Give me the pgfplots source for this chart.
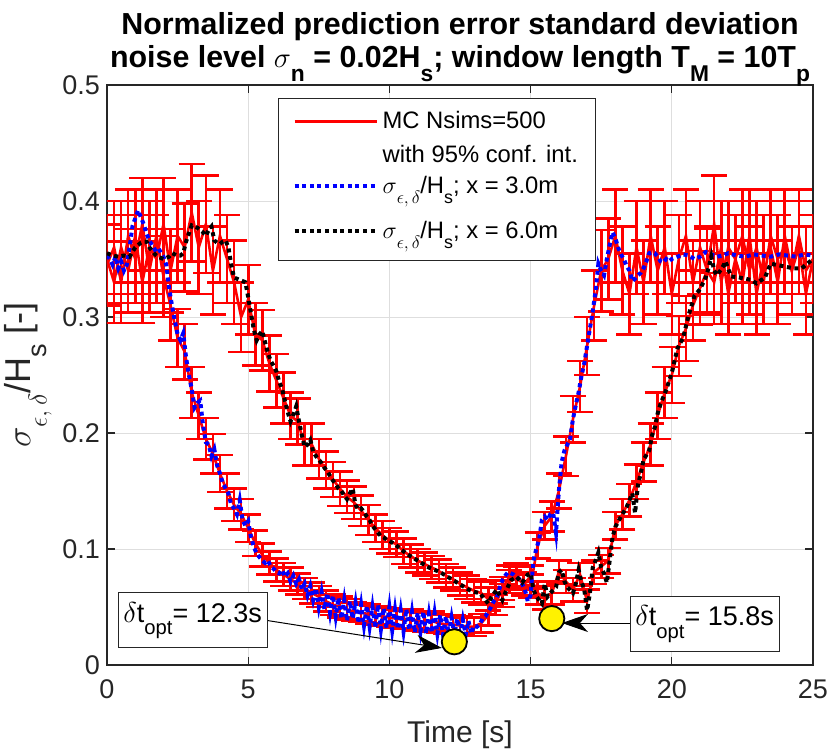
\documentclass[border=0pt]{standalone}
\usepackage{pgfplots}
\pgfplotsset{compat=1.18}
\usepackage{pgfplotstable}
\usepackage{graphicx}
\usepackage{fontspec}
\setmainfont{Liberation Sans}
\usetikzlibrary{arrows.meta}
\newcommand{\sub}[1]{\raisebox{-0.45em}{\scalebox{0.75}{#1}}}
\newcommand{\lgf}{\fontsize{11.9}{14}\selectfont}
\definecolor{axgray}{rgb}{0.15,0.15,0.15}

\pgfplotstableread{
t v e
0 0.345 0.035
0.25 0.36 0.04
0.5 0.33 0.035
0.75 0.37 0.04
1 0.35 0.038
1.25 0.38 0.04
1.5 0.34 0.036
1.75 0.37 0.04
2 0.335 0.035
2.25 0.31 0.03
2.5 0.282 0.025
2.75 0.27 0.024
3 0.235 0.022
3.25 0.215 0.02
3.5 0.195 0.018
3.75 0.182 0.017
4 0.165 0.016
4.25 0.15 0.015
4.5 0.138 0.014
4.75 0.13 0.013
5 0.118 0.012
5.25 0.105 0.011
5.5 0.095 0.01
5.75 0.088 0.01
6 0.082 0.01
6.25 0.078 0.01
6.5 0.074 0.01
6.75 0.07 0.009
7 0.066 0.009
7.25 0.062 0.009
7.5 0.059 0.009
7.75 0.055 0.009
8 0.052 0.009
8.25 0.05 0.009
8.5 0.048 0.009
8.75 0.046 0.008
9 0.045 0.008
9.25 0.044 0.008
9.5 0.043 0.008
9.75 0.042 0.008
10 0.041 0.008
10.25 0.04 0.008
10.5 0.039 0.008
10.75 0.04 0.008
11 0.038 0.008
11.25 0.037 0.008
11.5 0.038 0.008
11.75 0.036 0.008
12 0.035 0.008
12.25 0.035 0.008
12.5 0.034 0.008
12.75 0.033 0.008
13 0.033 0.008
13.25 0.036 0.008
13.5 0.043 0.009
13.75 0.052 0.009
14 0.066 0.01
14.25 0.076 0.01
14.5 0.078 0.01
14.75 0.07 0.01
15 0.068 0.01
15.25 0.103 0.011
15.5 0.12 0.012
15.75 0.128 0.013
16 0.15 0.015
16.25 0.18 0.017
16.5 0.212 0.02
16.75 0.24 0.022
17 0.275 0.025
17.25 0.31 0.03
17.5 0.34 0.035
17.75 0.35 0.035
18 0.37 0.04
18.25 0.34 0.038
18.5 0.32 0.035
18.75 0.36 0.04
19 0.33 0.036
19.25 0.37 0.04
19.5 0.34 0.038
19.75 0.36 0.04
20 0.32 0.035
20.25 0.35 0.038
20.5 0.37 0.04
20.75 0.33 0.036
21 0.36 0.04
21.25 0.34 0.038
21.5 0.38 0.042
21.75 0.33 0.036
22 0.36 0.04
22.25 0.35 0.038
22.5 0.37 0.04
22.75 0.34 0.038
23 0.36 0.04
23.25 0.33 0.036
23.5 0.37 0.04
23.75 0.35 0.038
24 0.36 0.04
24.25 0.34 0.038
24.5 0.37 0.04
24.75 0.34 0.038
25 0.35 0.038
}\mcA

\pgfplotstableread{
t v e
0 0.35 0.038
0.25 0.33 0.035
0.5 0.36 0.04
0.75 0.34 0.036
1 0.37 0.04
1.25 0.33 0.035
1.5 0.36 0.04
1.75 0.35 0.038
2 0.38 0.04
2.25 0.34 0.036
2.5 0.37 0.04
2.75 0.36 0.038
3 0.39 0.042
3.25 0.36 0.04
3.5 0.38 0.042
3.75 0.34 0.038
4 0.37 0.04
4.25 0.35 0.038
4.5 0.33 0.036
4.75 0.30 0.03
5 0.315 0.03
5.25 0.285 0.027
5.5 0.28 0.026
5.75 0.26 0.024
6 0.245 0.023
6.25 0.23 0.022
6.5 0.215 0.02
6.75 0.21 0.02
7 0.19 0.018
7.25 0.19 0.018
7.5 0.178 0.017
7.75 0.168 0.016
8 0.16 0.015
8.25 0.152 0.015
8.5 0.145 0.014
8.75 0.14 0.014
9 0.133 0.013
9.25 0.125 0.013
9.5 0.118 0.012
9.75 0.112 0.012
10 0.107 0.011
10.25 0.104 0.011
10.5 0.098 0.011
10.75 0.094 0.01
11 0.09 0.01
11.25 0.087 0.01
11.5 0.084 0.01
11.75 0.081 0.01
12 0.077 0.01
12.25 0.074 0.01
12.5 0.07 0.01
12.75 0.067 0.01
13 0.064 0.01
13.25 0.062 0.01
13.5 0.057 0.01
13.75 0.063 0.01
14 0.06 0.01
14.25 0.072 0.01
14.5 0.075 0.01
14.75 0.07 0.01
15 0.076 0.01
15.25 0.062 0.01
15.5 0.058 0.01
15.75 0.062 0.01
16 0.08 0.01
16.25 0.072 0.01
16.5 0.065 0.01
16.75 0.078 0.01
17 0.055 0.01
17.25 0.08 0.01
17.5 0.085 0.01
17.75 0.09 0.011
18 0.12 0.012
18.25 0.13 0.013
18.5 0.142 0.014
18.75 0.158 0.015
19 0.175 0.017
19.25 0.19 0.018
19.5 0.215 0.02
19.75 0.235 0.022
20 0.25 0.024
20.25 0.275 0.026
20.5 0.29 0.028
20.75 0.31 0.03
21 0.325 0.032
21.25 0.34 0.036
21.5 0.33 0.036
21.75 0.36 0.04
22 0.32 0.035
22.25 0.35 0.038
22.5 0.33 0.036
22.75 0.37 0.04
23 0.32 0.035
23.25 0.35 0.038
23.5 0.36 0.04
23.75 0.33 0.036
24 0.37 0.04
24.25 0.34 0.038
24.5 0.36 0.04
24.75 0.32 0.035
25 0.35 0.038
}\mcB

\pgfplotstableread{
t v
0.0 0.353
0.1 0.35
0.2 0.345
0.3 0.352
0.4 0.342
0.5 0.348
0.6 0.34
0.7 0.345
0.8 0.36
0.9 0.378
1.0 0.385
1.1 0.392
1.2 0.386
1.3 0.38
1.4 0.372
1.5 0.366
1.6 0.362
1.7 0.358
1.8 0.36
1.9 0.356
2.0 0.352
2.1 0.345
2.2 0.325
2.3 0.31
2.4 0.297
2.5 0.285
2.6 0.28
2.7 0.286
2.8 0.265
2.9 0.25
3.0 0.238
3.1 0.222
3.2 0.226
3.3 0.228
3.4 0.207
3.5 0.192
3.6 0.19
3.7 0.18
3.8 0.186
3.9 0.172
4.0 0.165
4.1 0.157
4.2 0.152
4.3 0.148
4.4 0.138
4.5 0.135
4.6 0.13
4.7 0.142
4.8 0.125
4.9 0.12
5.0 0.124
5.1 0.11
5.2 0.102
5.3 0.096
5.4 0.093
5.5 0.09
5.6 0.088
5.7 0.09
5.8 0.085
5.9 0.083
6.0 0.08
6.1 0.079
6.2 0.082
6.3 0.076
6.4 0.079
6.5 0.072
6.6 0.077
6.7 0.07
6.8 0.074
6.9 0.065
7.0 0.07
7.1 0.06
7.2 0.068
7.3 0.056
7.4 0.066
7.5 0.05
7.6 0.063
7.7 0.048
7.8 0.062
7.9 0.045
8.0 0.06
8.1 0.042
8.2 0.058
8.3 0.04
8.4 0.056
8.5 0.038
8.6 0.055
8.7 0.04
8.8 0.054
8.9 0.036
9.0 0.052
9.1 0.034
9.2 0.051
9.3 0.033
9.4 0.05
9.5 0.032
9.6 0.052
9.7 0.031
9.8 0.049
9.9 0.032
10.0 0.05
10.1 0.03
10.2 0.048
10.3 0.031
10.4 0.047
10.5 0.029
10.6 0.048
10.7 0.03
10.8 0.046
10.9 0.028
11.0 0.045
11.1 0.029
11.2 0.046
11.3 0.027
11.4 0.044
11.5 0.028
11.6 0.045
11.7 0.027
11.8 0.043
11.9 0.026
12.0 0.042
12.1 0.027
12.2 0.041
12.3 0.026
12.4 0.04
12.5 0.025
12.6 0.039
12.7 0.026
12.8 0.038
12.9 0.027
13.0 0.034
13.1 0.033
13.2 0.035
13.3 0.04
13.4 0.042
13.5 0.046
13.6 0.05
13.7 0.055
13.8 0.058
13.9 0.066
14.0 0.073
14.1 0.077
14.2 0.08
14.3 0.079
14.4 0.078
14.5 0.076
14.6 0.074
14.7 0.07
14.8 0.065
14.9 0.055
15.0 0.06
15.1 0.09
15.2 0.1
15.3 0.108
15.4 0.125
15.5 0.128
15.6 0.125
15.7 0.13
15.8 0.131
15.9 0.114
16.0 0.15
16.1 0.175
16.2 0.185
16.3 0.19
16.4 0.195
16.5 0.212
16.6 0.224
16.7 0.235
16.8 0.249
16.9 0.26
17.0 0.275
17.1 0.29
17.2 0.305
17.3 0.322
17.4 0.346
17.5 0.34
17.6 0.336
17.7 0.35
17.8 0.362
17.9 0.373
18.0 0.368
18.1 0.36
18.2 0.354
18.3 0.35
18.4 0.344
18.5 0.34
18.6 0.331
18.7 0.333
18.8 0.336
18.9 0.338
19.0 0.342
19.1 0.348
19.2 0.355
19.3 0.356
19.4 0.355
19.5 0.352
19.6 0.348
19.7 0.347
19.8 0.35
19.9 0.348
20.0 0.35
20.2 0.352
20.4 0.354
20.6 0.353
20.8 0.35
21.0 0.352
21.2 0.356
21.4 0.354
21.6 0.352
21.8 0.353
22.0 0.355
22.3 0.353
22.6 0.352
22.9 0.354
23.2 0.353
23.5 0.352
23.8 0.354
24.1 0.353
24.4 0.352
24.7 0.354
25.0 0.353
}\blueA

\pgfplotstableread{
t v
0.0 0.355
0.2 0.353
0.4 0.352
0.6 0.353
0.8 0.352
0.9 0.356
1.0 0.36
1.1 0.362
1.2 0.364
1.3 0.365
1.4 0.365
1.5 0.36
1.6 0.357
1.7 0.354
1.8 0.352
1.9 0.351
2.0 0.35
2.1 0.351
2.2 0.352
2.3 0.355
2.4 0.354
2.5 0.353
2.6 0.353
2.7 0.355
2.8 0.365
2.9 0.372
3.0 0.379
3.1 0.378
3.2 0.377
3.3 0.375
3.4 0.373
3.5 0.37
3.6 0.375
3.7 0.378
3.8 0.366
3.9 0.364
4.0 0.363
4.1 0.365
4.2 0.366
4.3 0.36
4.4 0.345
4.5 0.334
4.6 0.333
4.7 0.332
4.8 0.331
4.9 0.33
5.0 0.317
5.1 0.303
5.2 0.289
5.3 0.28
5.4 0.285
5.5 0.288
5.6 0.278
5.7 0.269
5.8 0.262
5.9 0.258
6.0 0.253
6.1 0.244
6.2 0.238
6.3 0.228
6.4 0.218
6.5 0.21
6.6 0.216
6.7 0.223
6.8 0.21
6.9 0.198
7.0 0.188
7.1 0.19
7.2 0.194
7.3 0.184
7.4 0.18
7.5 0.177
7.6 0.174
7.7 0.17
7.8 0.167
7.9 0.163
8.0 0.159
8.1 0.156
8.2 0.152
8.3 0.15
8.4 0.146
8.5 0.143
8.6 0.148
8.7 0.152
8.8 0.138
8.9 0.134
9.0 0.135
9.1 0.132
9.2 0.128
9.3 0.125
9.4 0.12
9.5 0.117
9.6 0.114
9.7 0.111
9.8 0.11
9.9 0.108
10.0 0.107
10.2 0.104
10.4 0.1
10.6 0.096
10.8 0.093
11.0 0.09
11.2 0.087
11.4 0.084
11.6 0.082
11.8 0.08
12.0 0.077
12.2 0.074
12.4 0.071
12.6 0.068
12.8 0.065
13.0 0.063
13.2 0.062
13.4 0.056
13.5 0.053
13.6 0.058
13.8 0.065
14.0 0.056
14.1 0.062
14.3 0.073
14.5 0.076
14.7 0.071
14.9 0.078
15.0 0.079
15.1 0.065
15.2 0.059
15.4 0.053
15.5 0.07
15.6 0.059
15.7 0.062
15.9 0.067
16.0 0.08
16.1 0.082
16.2 0.072
16.3 0.067
16.5 0.062
16.6 0.07
16.7 0.082
16.8 0.072
16.9 0.065
17.0 0.047
17.1 0.062
17.2 0.084
17.3 0.09
17.4 0.097
17.5 0.084
17.6 0.079
17.7 0.071
17.8 0.09
17.9 0.11
18.0 0.119
18.2 0.128
18.4 0.136
18.6 0.148
18.7 0.131
18.8 0.155
18.9 0.165
19.0 0.177
19.2 0.185
19.3 0.198
19.4 0.205
19.5 0.217
19.6 0.225
19.8 0.237
20.0 0.252
20.2 0.273
20.4 0.282
20.5 0.292
20.6 0.302
20.8 0.318
21.0 0.324
21.2 0.334
21.3 0.342
21.4 0.352
21.5 0.34
21.6 0.336
21.8 0.343
21.9 0.348
22.1 0.335
22.4 0.334
22.8 0.332
23.0 0.329
23.3 0.334
23.5 0.346
23.9 0.344
24.3 0.342
24.6 0.342
25.0 0.35
}\blackB

\begin{document}
\begin{tikzpicture}
\useasboundingbox (-53.5pt,-43pt) rectangle (361.5pt,332.5pt);
\begin{axis}[
  scale only axis, width=353pt, height=290pt,
  xmin=0, xmax=25, ymin=0, ymax=0.5,
  xtick={0,5,10,15,20,25}, xticklabels={0,5,10,15,20,25},
  ytick={0,0.1,0.2,0.3,0.4,0.5}, yticklabels={0,0.1,0.2,0.3,0.4,0.5},
  tick align=inside, major tick length=4pt,
  xtick pos=both, ytick pos=both,
  grid=major, major grid style={line width=0.5pt, draw=black!13},
  axis line style={line width=0.6pt, draw=axgray},
  every tick/.style={axgray, line width=0.6pt},
  tick label style={font=\fontsize{13.5}{16}\selectfont, text=axgray},
  xticklabel style={yshift=-4pt},
  xlabel={Time [s]},
  ylabel={$\sigma$\sub{$\epsilon,\delta$}/H\sub{s} [-]},
  label style={font=\fontsize{15}{18}\selectfont, text=axgray},
  xlabel style={at={(axis description cs:0.5,-0.12)}, anchor=center},
  ylabel style={at={(axis description cs:-0.112,0.5)}, anchor=center, rotate=0, font=\fontsize{18}{20}\selectfont},
  title={Normalized prediction error standard deviation\\noise level $\sigma$\sub{n} = 0.02H\sub{s}; window length T\sub{M} = 10T\sub{p}},
  title style={at={(axis description cs:0.5,1)}, anchor=south, yshift=-10pt, align=center, font=\bfseries\fontsize{15.2}{16.5}\selectfont},
  legend style={at={(axis cs:6.06,0.489)}, anchor=north west, draw=axgray, line width=0.5pt, fill=white,
    font=\lgf, nodes={font=\lgf, inner ysep=0pt, text depth=, text height=}, cells={anchor=base west}, inner xsep=7pt, inner ysep=4pt, row sep=0pt},
  legend image code/.code={\draw[#1] (0pt,3.5pt) -- (41pt,3.5pt);},
]
\addplot[red, line width=1.3pt, error bars/.cd, y dir=both, y explicit,
  error bar style={line width=1.3pt, red},
  error mark options={red, mark size=6.5pt, line width=1.3pt, rotate=90}]
  table[x=t, y=v, y error=e] {\mcA};
\addlegendentry{\lgf\rule[-8pt]{0pt}{19pt}MC Nsims=500}
\addlegendimage{empty legend}
\addlegendentry{\lgf\rule[-6.5pt]{0pt}{15.5pt}with 95\% conf. int.}
\addplot[red, line width=1.3pt, forget plot, error bars/.cd, y dir=both, y explicit,
  error bar style={line width=1.3pt, red},
  error mark options={red, mark size=6.5pt, line width=1.3pt, rotate=90}]
  table[x=t, y=v, y error=e] {\mcB};
\addplot[blue, line width=2pt, dash pattern=on 2pt off 1.8pt] table[x=t, y=v] {\blueA};
\addlegendentry{\lgf\rule[-13.5pt]{0pt}{22.5pt}$\sigma$\sub{$\epsilon,\delta$}/H\sub{s}; x = 3.0m}
\addplot[black, line width=2pt, dash pattern=on 2pt off 1.8pt] table[x=t, y=v] {\blackB};
\addlegendentry{\lgf\rule{0pt}{9pt}$\sigma$\sub{$\epsilon,\delta$}/H\sub{s}; x = 6.0m}
\addplot[only marks, mark=*, mark size=6.3pt, mark options={fill=yellow, draw=black, line width=0.9pt}, forget plot]
  coordinates {(12.3,0.02) (15.75,0.04)};
\draw[-{Stealth[length=13pt,width=9pt,inset=4pt]}, line width=0.5pt, black] (axis cs:5.666,0.0384) -- (axis cs:11.86,0.0147);
\draw[-{Stealth[length=13pt,width=9pt,inset=4pt]}, line width=0.5pt, black] (axis cs:18.52,0.0362) -- (axis cs:16.11,0.0362);
\node[draw=axgray, line width=0.5pt, fill=white, minimum width=74.5pt, minimum height=27.5pt, inner sep=2pt, font=\fontsize{13.5}{16}\selectfont]
  at (axis cs:3.03,0.0384) {$\delta$t\sub{opt}= 12.3s};
\node[draw=axgray, line width=0.5pt, fill=white, minimum width=74.5pt, minimum height=27.5pt, inner sep=2pt, font=\fontsize{13.5}{16}\selectfont]
  at (axis cs:21.16,0.0353) {$\delta$t\sub{opt}= 15.8s};
\end{axis}
\end{tikzpicture}
\end{document}
